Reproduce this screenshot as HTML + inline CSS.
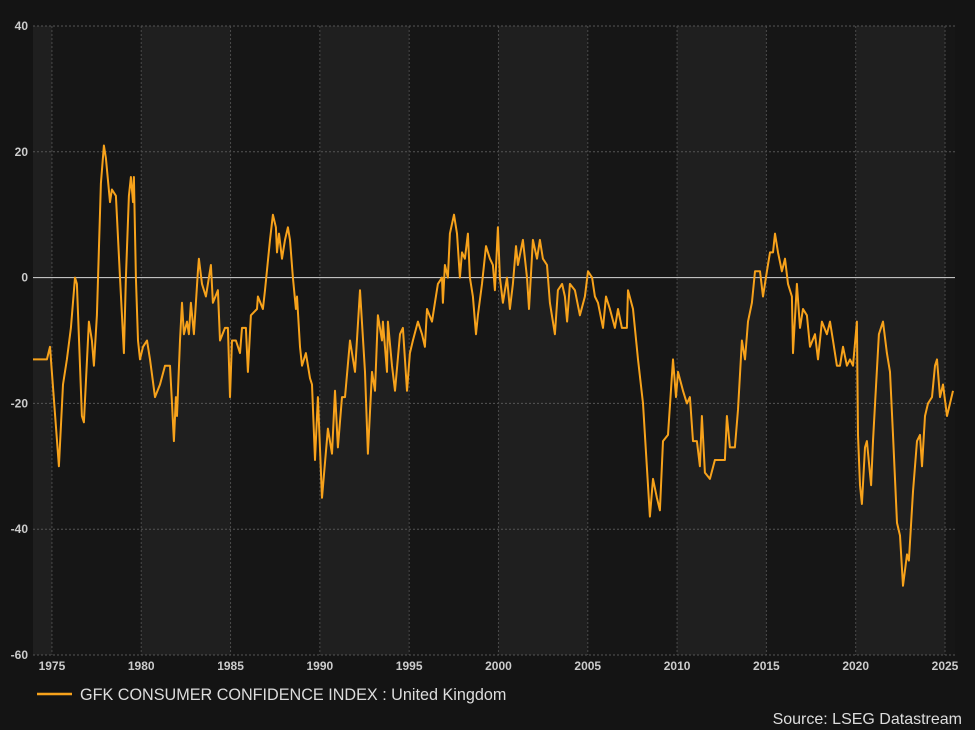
<!DOCTYPE html>
<html><head><meta charset="utf-8"><style>
html,body{margin:0;padding:0;background:#141414;}
svg{display:block;font-family:"Liberation Sans",Arial,sans-serif;}
</style></head><body>
<svg id="chart" width="975" height="730" viewBox="0 0 975 730" xmlns="http://www.w3.org/2000/svg">
<rect x="0" y="0" width="975" height="730" fill="#141414"/>
<g id="bands"></g>
<g id="grid"></g>
<g id="yaxis"></g>
<g id="xaxis"></g>
<path id="series" fill="none" stroke="#f7a21b" stroke-width="2" stroke-linejoin="round"/>
<g>
<line x1="37" y1="694" x2="72" y2="694" stroke="#f7a21b" stroke-width="2.5"/>
<text x="80" y="700" font-size="16.2" fill="#dddddd">GFK CONSUMER CONFIDENCE INDEX : United Kingdom</text>
</g>
<text x="962" y="724" font-size="16" fill="#dddddd" text-anchor="end">Source: LSEG Datastream</text>
</svg>
<script>
const years = [1973.94,1974.72,1974.89,1975.39,1975.62,1975.84,1976.06,1976.29,1976.40,1976.68,1976.79,1977.07,1977.24,1977.35,1977.52,1977.74,1977.91,1978.02,1978.25,1978.36,1978.58,1978.81,1979.03,1979.14,1979.31,1979.42,1979.54,1979.59,1979.70,1979.82,1979.93,1980.10,1980.32,1980.49,1980.77,1981.05,1981.33,1981.61,1981.72,1981.83,1981.94,1982.00,1982.17,1982.28,1982.39,1982.56,1982.67,1982.78,1982.95,1983.17,1983.23,1983.40,1983.62,1983.90,1984.01,1984.29,1984.41,1984.69,1984.85,1984.97,1985.08,1985.30,1985.53,1985.64,1985.86,1985.97,1986.14,1986.48,1986.53,1986.81,1986.93,1987.21,1987.37,1987.54,1987.60,1987.71,1987.88,1988.05,1988.21,1988.33,1988.49,1988.66,1988.72,1988.89,1989.00,1989.22,1989.45,1989.56,1989.73,1989.89,1990.12,1990.45,1990.68,1990.85,1991.01,1991.24,1991.41,1991.69,1991.97,1992.25,1992.53,1992.69,1992.92,1993.09,1993.25,1993.48,1993.53,1993.76,1993.81,1994.04,1994.21,1994.49,1994.65,1994.88,1995.04,1995.21,1995.49,1995.72,1995.88,1996.00,1996.28,1996.44,1996.61,1996.84,1996.89,1997.00,1997.17,1997.28,1997.51,1997.68,1997.84,1997.96,1998.12,1998.29,1998.40,1998.57,1998.74,1998.85,1999.08,1999.30,1999.52,1999.69,1999.80,1999.97,2000.08,2000.25,2000.48,2000.64,2000.81,2000.98,2001.09,2001.37,2001.60,2001.71,2001.93,2002.16,2002.32,2002.49,2002.72,2002.88,2003.16,2003.33,2003.56,2003.72,2003.84,2004.00,2004.28,2004.56,2004.84,2005.01,2005.24,2005.40,2005.57,2005.85,2006.02,2006.24,2006.52,2006.69,2006.91,2007.19,2007.25,2007.53,2007.81,2008.09,2008.48,2008.65,2008.87,2009.04,2009.21,2009.49,2009.77,2009.94,2010.05,2010.33,2010.55,2010.72,2010.89,2011.11,2011.28,2011.39,2011.56,2011.84,2012.12,2012.40,2012.68,2012.79,2012.96,2013.24,2013.41,2013.63,2013.80,2013.97,2014.19,2014.36,2014.64,2014.81,2015.03,2015.20,2015.37,2015.48,2015.65,2015.87,2016.04,2016.21,2016.43,2016.49,2016.71,2016.88,2017.05,2017.27,2017.44,2017.72,2017.89,2018.11,2018.39,2018.56,2018.73,2018.95,2019.12,2019.29,2019.51,2019.68,2019.85,2020.07,2020.13,2020.24,2020.35,2020.52,2020.63,2020.86,2020.97,2021.14,2021.30,2021.53,2021.75,2021.92,2022.09,2022.31,2022.48,2022.65,2022.87,2022.98,2023.21,2023.43,2023.60,2023.71,2023.88,2024.05,2024.27,2024.44,2024.55,2024.72,2024.89,2025.11,2025.28,2025.45];
const values = [-13,-13,-11,-30,-17,-13,-8,0,-1,-22,-23,-7,-10,-14,-6,15,21,19,12,14,13,0,-12,0,13,16,12,16,0,-10,-13,-11,-10,-13,-19,-17,-14,-14,-20,-26,-19,-22,-10,-4,-9,-7,-9,-4,-9,1,3,-1,-3,2,-4,-2,-10,-8,-8,-19,-10,-10,-12,-8,-8,-15,-6,-5,-3,-5,-2,6,10,8,4,7,3,6,8,6,0,-5,-3,-11,-14,-12,-16,-17,-29,-19,-35,-24,-28,-18,-27,-19,-19,-10,-15,-2,-15,-28,-15,-18,-6,-10,-7,-15,-7,-14,-18,-9,-8,-18,-12,-10,-7,-9,-11,-5,-7,-4,-1,0,-4,2,0,7,10,7,0,4,3,7,0,-3,-9,-6,-1,5,3,2,-2,8,0,-4,0,-5,-1,5,2,6,0,-5,6,3,6,3,2,-4,-9,-2,-1,-3,-7,-1,-2,-6,-3,1,0,-3,-4,-8,-3,-5,-8,-5,-8,-8,-2,-5,-13,-20,-38,-32,-35,-37,-26,-25,-13,-19,-15,-18,-20,-19,-26,-26,-30,-22,-31,-32,-29,-29,-29,-22,-27,-27,-21,-10,-13,-7,-4,1,1,-3,1,4,4,7,4,1,3,-1,-3,-12,-1,-8,-5,-6,-11,-9,-13,-7,-9,-7,-10,-14,-14,-11,-14,-13,-14,-7,-25,-33,-36,-27,-26,-33,-26,-17,-9,-7,-12,-15,-25,-39,-41,-49,-44,-45,-34,-26,-25,-30,-22,-20,-19,-14,-13,-19,-17,-22,-20,-18];
const yTicks = [40,20,0,-20,-40,-60];
const xTicks = [1975,1980,1985,1990,1995,2000,2005,2010,2015,2020,2025];

const L=33,R=955,T=26,B=655, X0=1973.94, X1=2025.56, Y0=-60, Y1=40;
const NS="http://www.w3.org/2000/svg";
function sx(v){return L+(v-X0)/(X1-X0)*(R-L);}
function sy(v){return B-(v-Y0)/(Y1-Y0)*(B-T);}
function mk(tag,attrs,parent){const e=document.createElementNS(NS,tag);for(const k in attrs)e.setAttribute(k,attrs[k]);parent.appendChild(e);return e;}

const bands=document.getElementById('bands');
const edges=[X0].concat(xTicks).concat([X1]);
for(let i=0;i<edges.length-1;i++){
  const a=Math.max(edges[i],X0), b=Math.min(edges[i+1],X1);
  const light = (Math.round(a)%10===0) || i===0;
  const r=mk('rect',{x:sx(a),y:T,width:sx(b)-sx(a),height:B-T,fill:light?'#1f1f1f':'#161616'},bands);
  
  
}
const grid=document.getElementById('grid'), ya=document.getElementById('yaxis'), xa=document.getElementById('xaxis');
yTicks.forEach(t=>{
  const y=sy(t);
  const ln=mk('line',{x1:L,x2:R,y1:y,y2:y,stroke:t===0?'#d8d8d8':'#555',"stroke-width":1,"stroke-dasharray":t===0?'none':'2,2'},grid);
  
  
  const tx=mk('text',{x:28,y:y+4,"font-size":12,"font-weight":"bold",fill:'#cccccc',"text-anchor":'end'},ya);
  tx.textContent=t;
  
  
});
xTicks.forEach(t=>{
  const x=sx(t);
  const ln=mk('line',{x1:x,x2:x,y1:T,y2:B,stroke:'#4a4a4a',"stroke-width":1,"stroke-dasharray":'2,2'},grid);
  
  
  const tx=mk('text',{x:x,y:670,"font-size":12,"font-weight":"bold",fill:'#cccccc',"text-anchor":'middle'},xa);
  tx.textContent=t;
  
  
});
let d='';
for(let i=0;i<years.length;i++){d+=(i?'L':'M')+sx(years[i]).toFixed(1)+' '+sy(values[i]).toFixed(1);}
document.getElementById('series').setAttribute('d',d);
</script>
</body></html>
